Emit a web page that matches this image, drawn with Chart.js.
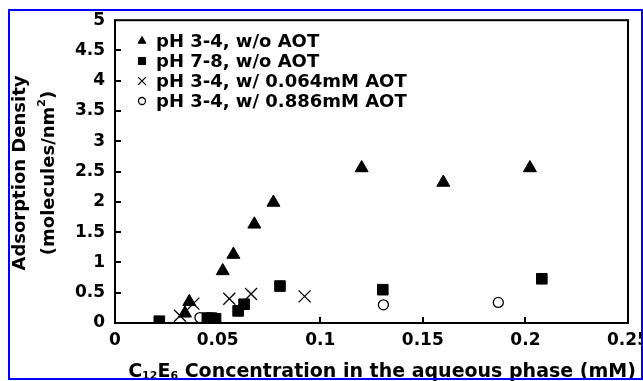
<!DOCTYPE html>
<html>
<head>
    <meta charset="UTF-8">
    <title>Adsorption Density</title>
    <style>
        body {
            margin: 0;
            background: white;
            overflow: hidden;
            width: 643px;
            height: 381px;
        }
        #grafico {
            position: absolute;
            left: 0;
            top: 0;
        }
        .moldura {
            position: absolute;
            left: 8px;
            top: 9px;
            width: 631px;
            height: 367px;
            border: 2px solid #0000ff;
            pointer-events: none;
        }
    </style>
    <script src="https://cdn.jsdelivr.net/npm/chart.js"></script>
</head>
<body>
    <canvas id="grafico" width="660" height="381"></canvas>
    <div class="moldura"></div>

    <script>
        // legenda
        var nomesSeries = ['pH 3-4, w/o AOT', 'pH 7-8, w/o AOT', 'pH 3-4, w/ 0.064mM AOT', 'pH 3-4, w/ 0.886mM AOT'];

        // pH 3-4 sem AOT (triangulos)
        var triX = [0.0341, 0.0362, 0.0525, 0.0577, 0.0679, 0.0772, 0.1202, 0.160, 0.2022];
        var triY = [0.16, 0.35, 0.86, 1.13, 1.63, 1.99, 2.56, 2.32, 2.56];
        // pH 7-8 sem AOT (quadrados)
        var quadX = [0.0216, 0.045, 0.047, 0.049, 0.060, 0.0629, 0.0804, 0.1305, 0.208];
        var quadY = [0.03, 0.08, 0.08, 0.07, 0.20, 0.31, 0.61, 0.55, 0.73];
        // pH 3-4 com 0.064mM AOT (x)
        var cruzX = [0.0317, 0.0382, 0.0557, 0.0663, 0.0924];
        var cruzY = [0.12, 0.32, 0.40, 0.48, 0.44];
        // pH 3-4 com 0.886mM AOT (circulos)
        var circX = [0.0414, 0.1308, 0.1868];
        var circY = [0.09, 0.30, 0.34];

        var ticksX = [0, 0.05, 0.1, 0.15, 0.2, 0.25];
        var ticksY = [0, 0.5, 1, 1.5, 2, 2.5, 3, 3.5, 4, 4.5, 5];

        function pontos(xs, ys) {
            return xs.map(function (v, i) { return { x: v, y: ys[i] }; });
        }

        var fonte = '"DejaVu Sans", sans-serif';

        var datasets = [
            { label: nomesSeries[0], data: pontos(triX, triY), pointStyle: 'triangle', pointRadius: 7.5,
              backgroundColor: '#000', borderColor: '#000', borderWidth: 1, legRaio: 4.5 },
            { label: nomesSeries[1], data: pontos(quadX, quadY), pointStyle: 'rect', pointRadius: 7.5,
              backgroundColor: '#000', borderColor: '#000', borderWidth: 1, legRaio: 5 },
            { label: nomesSeries[2], data: pontos(cruzX, cruzY), pointStyle: 'crossRot', pointRadius: 8.5,
              backgroundColor: '#000', borderColor: '#000', borderWidth: 1.3, legRaio: 5.5 },
            { label: nomesSeries[3], data: pontos(circX, circY), pointStyle: 'circle', pointRadius: 5,
              backgroundColor: '#fff', borderColor: '#000', borderWidth: 1.3, legRaio: 3.5 }
        ];

        // texto com partes sub/sobrescritas
        function larguraPartes(ctx, partes) {
            var w = 0;
            partes.forEach(function (p) {
                ctx.font = 'bold ' + p.tam + 'px ' + fonte;
                w += ctx.measureText(p.t).width;
            });
            return w;
        }
        function desenharPartes(ctx, partes, x0, y0) {
            var x = x0;
            partes.forEach(function (p) {
                ctx.font = 'bold ' + p.tam + 'px ' + fonte;
                ctx.fillText(p.t, x, y0 + (p.dy || 0));
                x += ctx.measureText(p.t).width;
            });
        }

        var moldura = {
            id: 'moldura',
            afterDraw: function (chart) {
                var ctx = chart.ctx;
                var a = chart.chartArea;
                var sx = chart.scales.x, sy = chart.scales.y;
                ctx.save();
                ctx.strokeStyle = '#000';
                ctx.lineWidth = 2;
                ctx.strokeRect(a.left, a.top, a.right - a.left, a.bottom - a.top);

                // ticks para dentro
                ctx.beginPath();
                ticksX.slice(1, -1).forEach(function (v) {
                    var px = Math.round(sx.getPixelForValue(v));
                    ctx.moveTo(px, a.bottom);
                    ctx.lineTo(px, a.bottom - 6);
                });
                ticksY.slice(1, -1).forEach(function (v) {
                    var py = Math.round(sy.getPixelForValue(v));
                    ctx.moveTo(a.left, py);
                    ctx.lineTo(a.left + 6, py);
                });
                ctx.stroke();

                // legenda
                var linhas = [41, 61, 81, 101];
                ctx.fillStyle = '#000';
                ctx.textBaseline = 'middle';
                ctx.textAlign = 'left';
                chart.data.datasets.forEach(function (ds, i) {
                    ctx.fillStyle = ds.backgroundColor;
                    ctx.strokeStyle = ds.borderColor;
                    ctx.lineWidth = ds.borderWidth;
                    if (Chart.helpers && Chart.helpers.drawPoint) {
                        Chart.helpers.drawPoint(ctx, { pointStyle: ds.pointStyle, radius: ds.legRaio, borderWidth: ds.borderWidth, rotation: 0 }, 142, linhas[i]);
                    }
                    ctx.fillStyle = '#000';
                    ctx.font = 'bold 18px ' + fonte;
                    ctx.fillText(ds.label, 156, linhas[i] + 1);
                });

                // titulo do eixo x
                ctx.textBaseline = 'alphabetic';
                var tx = [
                    { t: 'C', tam: 19 }, { t: '12', tam: 11, dy: 2 },
                    { t: 'E', tam: 19 }, { t: '6', tam: 11, dy: 2 },
                    { t: ' Concentration in the aqueous phase (mM)', tam: 19 }
                ];
                var wx = larguraPartes(ctx, tx);
                desenharPartes(ctx, tx, 382 - wx / 2, 377);

                // titulo do eixo y (duas linhas)
                ctx.save();
                ctx.translate(20, 173);
                ctx.rotate(-Math.PI / 2);
                ctx.textAlign = 'center';
                ctx.textBaseline = 'middle';
                ctx.font = 'bold 18px ' + fonte;
                ctx.fillText('Adsorption Density', 0, 0);
                ctx.restore();

                ctx.save();
                ctx.translate(49, 173);
                ctx.rotate(-Math.PI / 2);
                ctx.textAlign = 'left';
                ctx.textBaseline = 'middle';
                var ty = [
                    { t: '(molecules/nm', tam: 18 }, { t: '2', tam: 11, dy: -7 }, { t: ')', tam: 18 }
                ];
                var wy = larguraPartes(ctx, ty);
                desenharPartes(ctx, ty, -wy / 2, 0);
                ctx.restore();

                ctx.restore();
            }
        };

        new Chart(document.getElementById('grafico').getContext('2d'), {
            type: 'scatter',
            data: { datasets: datasets },
            options: {
                responsive: false,
                animation: false,
                devicePixelRatio: 1,
                layout: { padding: { left: 0, top: 14, right: 32, bottom: 0 } },
                plugins: { legend: { display: false }, tooltip: { enabled: false } },
                scales: {
                    x: {
                        type: 'linear',
                        min: 0,
                        max: 0.25,
                        afterBuildTicks: function (s) { s.ticks = ticksX.map(function (v) { return { value: v }; }); },
                        afterFit: function (s) { s.height = 58; },
                        grid: { display: false, drawTicks: false },
                        border: { display: false },
                        ticks: {
                            color: '#000',
                            padding: 7,
                            maxRotation: 0,
                            font: { family: fonte, size: 17, weight: 'bold' },
                            callback: function (v) { return String(v); }
                        }
                    },
                    y: {
                        type: 'linear',
                        min: 0,
                        max: 5,
                        afterBuildTicks: function (s) { s.ticks = ticksY.map(function (v) { return { value: v }; }); },
                        afterFit: function (s) { s.width = 115; },
                        grid: { display: false, drawTicks: false },
                        border: { display: false },
                        ticks: {
                            color: '#000',
                            padding: 10,
                            font: { family: fonte, size: 17, weight: 'bold' },
                            callback: function (v) { return String(v); }
                        }
                    }
                }
            },
            plugins: [moldura]
        });
    </script>
</body>
</html>
